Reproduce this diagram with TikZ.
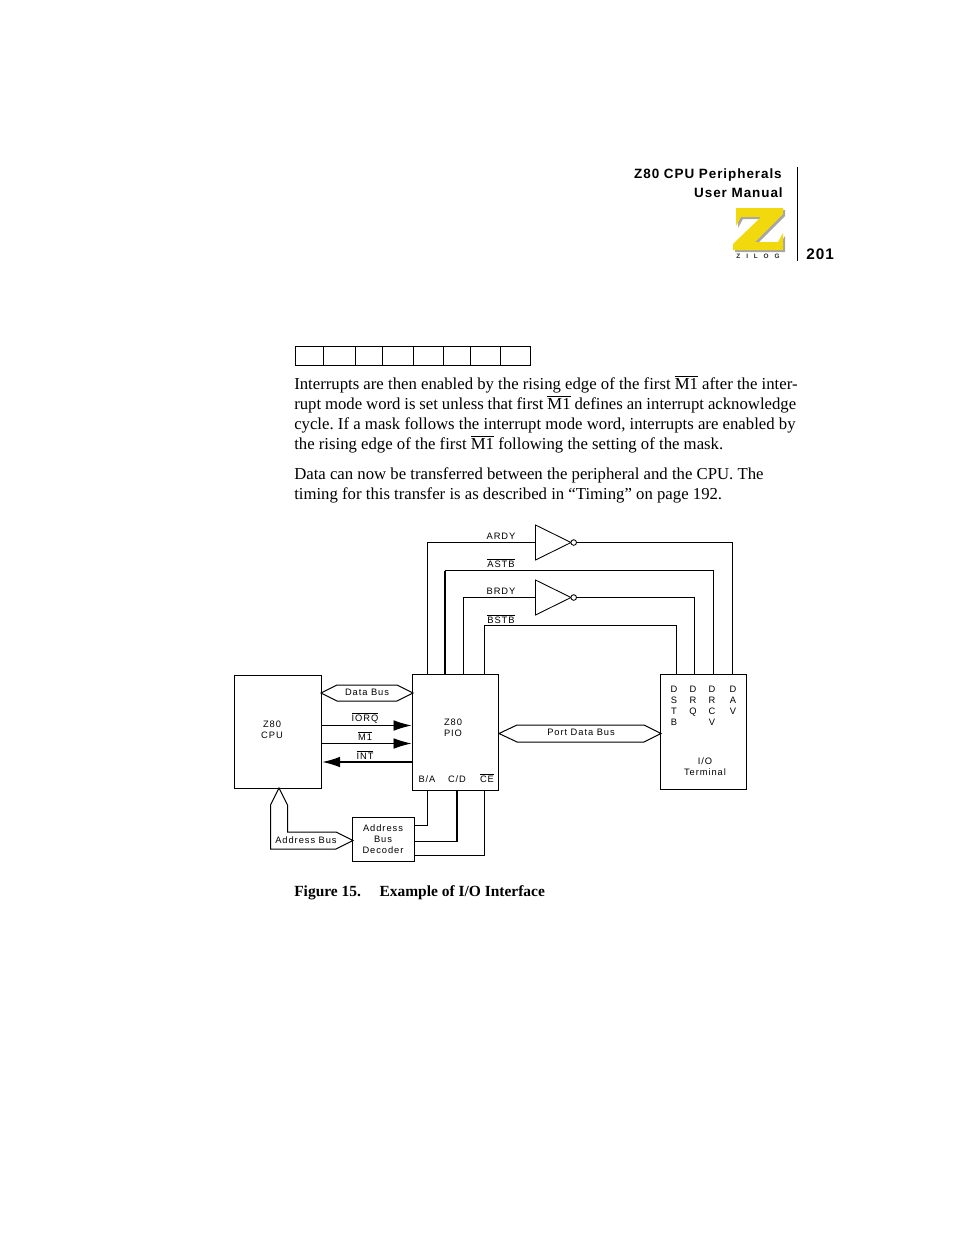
\documentclass[tikz,border=0pt]{standalone}
\usepackage{fontspec}
\setmainfont{Liberation Serif}
\newfontfamily\labelfont[LetterSpace=10]{Liberation Sans}
\newfontfamily\headfont[LetterSpace=7]{Liberation Sans}
\usepackage{tikz}
\usetikzlibrary{arrows.meta}
\frenchspacing
\newcommand{\barred}[1]{$\overline{\mbox{#1}}$}
\begin{document}
\begin{tikzpicture}[x=0.75pt, y=-0.75pt,
		block/.style={draw, line width=0.65pt, inner sep=0mm, outer sep=0mm},
		wire/.style={line width=0.65pt},
		heavy/.style={line width=1.3pt},
		bus/.style={draw, line width=0.75pt, fill=white, line join=miter},
		sig/.style={font=\labelfont\fontsize{7}{8.3}\selectfont, inner sep=0mm, align=center},
		para/.style={anchor=base west, inner sep=0mm, font=\fontsize{12.55}{15}\selectfont},
		dot/.style={circle, draw, line width=0.65pt, fill=white, minimum size=4.2pt, inner sep=0mm, outer sep=0mm},
		head/.style={font=\headfont\bfseries\fontsize{10.1}{12}\selectfont, inner sep=0mm, anchor=base east},
		tip/.style={-{Latex[length=13.5pt, width=8pt]}}]
	\useasboundingbox (0,0) rectangle (954,1235);
	% running head
	\node[head] at (782,178) (title1) {Z80 CPU Peripherals};
	\node[head] at (783,197) (title2) {User Manual};
	\node[head, anchor=base west, font=\headfont\bfseries\fontsize{11.5}{12}\selectfont] at (806,259) (pageno) {201};
	\coordinate (rule1) at (797.5,167);
	\coordinate (rule2) at (797.5,261);
	\draw[wire] (rule1)--(rule2);
	% logo
	\fill[black!35] (738,210)--(785,210)--(785,216)--(757,244)--(780,244)--(785,236)--(785,252)--(735,252)--(735,246)--(763,219)--(743,219)--(738,228)--cycle;
	\fill[yellow!85!orange!95!black] (736,208)--(783,208)--(783,214)--(755,242)--(778,242)--(783,233)--(783,250)--(733,250)--(733,244)--(761,217)--(741,217)--(736,226)--cycle;
	\node[font=\labelfont\bfseries\fontsize{4.8}{5}\selectfont, inner sep=0mm, text=black!85] at (758,256.5) (zilog) {Z\hspace{4.4pt}I\hspace{4.4pt}L\hspace{4.4pt}O\hspace{4.4pt}G};
	% register boxes
	\foreach \xa/\xb in {295.5/323.5, 323.5/355.5, 355.5/382.5, 382.5/413.5, 413.5/443.5, 443.5/470.5, 470.5/500.5, 500.5/530.5}
		\draw[wire] (\xa,346.5) rectangle (\xb,365.5);
	% body text
	\node[para] at (294,389) (line1) {\makebox[377.5pt][s]{Interrupts are then enabled by the rising edge of the first \barred{M1} after the inter-}};
	\node[para] at (294,409) (line2) {\makebox[376.5pt][s]{rupt mode word is set unless that first \barred{M1} defines an interrupt acknowledge}};
	\node[para] at (294,429) (line3) {\makebox[376pt][s]{cycle. If a mask follows the interrupt mode word, interrupts are enabled by}};
	\node[para] at (294,449) (line4) {the rising edge of the first \barred{M1} following the setting of the mask.};
	\node[para] at (294,479) (line5) {Data can now be transferred between the peripheral and the CPU. The};
	\node[para] at (294,499) (line6) {timing for this transfer is as described in ``Timing'' on page 192.};
	\node[para, font=\bfseries\fontsize{11.6}{14}\selectfont] at (294,896) (caption) {Figure 15.\hspace{1.2em}Example of I/O Interface};
	% blocks
	\node[block, minimum width=65.25pt, minimum height=84.75pt] at (278,732) (cpu) {};
	\node[block, minimum width=64.5pt, minimum height=87pt] at (455.5,732.5) (pio) {};
	\node[block, minimum width=64.5pt, minimum height=86.25pt] at (703.5,732) (term) {};
	\node[block, minimum width=46.5pt, minimum height=33pt] at (383.5,839.5) (dec) {};
	\draw[heavy] (cpu.north west)--(cpu.south west);
	\draw[heavy] (dec.north west)--(dec.north east);
	% block labels
	\node[sig] at (272,730) (cpulabel) {Z80\\CPU};
	\node[sig] at (453,728) (piolabel) {Z80\\PIO};
	\node[sig] at (427,779) (ba) {B/A};
	\node[sig] at (457,779) (cd) {C/D};
	\node[sig] at (487,778) (ce) {\barred{CE}};
	\node[sig] at (383,839) (declabel) {Address\\Bus\\Decoder};
	\node[sig] at (705,767) (termlabel) {I/O\\Terminal};
	\node[sig, anchor=north] at (674,686) (dstb) {D\\S\\T\\B};
	\node[sig, anchor=north] at (693,686) (drq) {D\\R\\Q};
	\node[sig, anchor=north] at (712,686) (drcv) {D\\R\\C\\V};
	\node[sig, anchor=north] at (733,686) (dav) {D\\A\\V};
	% inverters
	\coordinate (inva1) at (535.5,525);
	\coordinate (inva2) at (535.5,560);
	\coordinate (inva3) at (571,542.5);
	\coordinate (invb1) at (535.5,580);
	\coordinate (invb2) at (535.5,615);
	\coordinate (invb3) at (571,597.5);
	\draw[wire, line join=miter] (inva1)--(inva3)--(inva2)--cycle;
	\draw[wire, line join=miter] (invb1)--(invb3)--(invb2)--cycle;
	\node[dot] at (573.7,542.5) (dota) {};
	\node[dot] at (573.7,597.5) (dotb) {};
	% handshake lines
	\coordinate (inain) at (535.5,542.5);
	\coordinate (inbin) at (535.5,597.5);
	\coordinate (pioa) at (427.5,674.5);
	\coordinate (piob) at (445,674.5);
	\coordinate (pioc) at (463.5,674.5);
	\coordinate (piod) at (484.5,674.5);
	\coordinate (termd) at (676.5,674.5);
	\coordinate (termc) at (694.5,674.5);
	\coordinate (termb) at (713.5,674.5);
	\coordinate (terma) at (732.5,674.5);
	\coordinate (astbl) at (445,570.5);
	\coordinate (astbr) at (713.5,570.5);
	\coordinate (bstbl) at (484.5,625.5);
	\coordinate (bstbr) at (676.5,625.5);
	\draw[wire] (dota.east)-|(terma) (inain)-|(pioa);
	\draw[wire] (astbl)--(astbr)--(termb);
	\draw[wire] (dotb.east)-|(termc) (inbin)-|(pioc);
	\draw[wire] (piod)--(bstbl)--(bstbr)--(termd);
	\draw[heavy] (piob)--(astbl);
	\node[sig] at (501,536) (ardy) {ARDY};
	\node[sig] at (501,563) (astb) {\barred{ASTB}};
	\node[sig] at (501,591) (brdy) {BRDY};
	\node[sig] at (501,619) (bstb) {\barred{BSTB}};
	% buses
	\draw[bus] (321,693)--(337,685)--(397,685)--(413,693)--(397,701)--(337,701)--cycle;
	\node[sig] at (367,692) (databus) {Data Bus};
	\draw[bus] (499,733.5)--(517,725)--(644,725)--(661,733.5)--(644,742)--(517,742)--cycle;
	\node[sig] at (581,732) (portbus) {Port Data Bus};
	\draw[bus] (279,788)--(287.5,805)--(287.5,832)--(336,832)--(353,840.5)--(336,849)--(270.5,849)--(270.5,805)--cycle;
	\node[sig] at (306,840) (addrbus) {Address Bus};
	% control lines
	\coordinate (iorqa) at (321,725.5);
	\coordinate (iorqb) at (411.5,725.5);
	\coordinate (mia) at (321,743.5);
	\coordinate (mib) at (411.5,743.5);
	\coordinate (inta) at (413,762);
	\coordinate (intb) at (322,762);
	\draw[wire, tip] (iorqa)--(iorqb);
	\draw[wire, tip] (mia)--(mib);
	\draw[heavy, tip] (inta)--(intb);
	\node[sig] at (365,718) (iorq) {\barred{IORQ}};
	\node[sig] at (365,736) (mi) {\barred{M1}};
	\node[sig] at (365,755) (int) {\barred{INT}};
	% decoder lines
	\coordinate (bapin) at (427.5,790.5);
	\coordinate (cdpin) at (457,790.5);
	\coordinate (cepin) at (484.5,790.5);
	\coordinate (decba) at (414.5,825.5);
	\coordinate (deccd) at (414.5,841.5);
	\coordinate (decce) at (414.5,855.5);
	\draw[wire] (bapin)|-(decba);
	\draw[heavy] (cdpin)--(cdpin|-deccd);
	\draw[wire] (cdpin|-deccd)--(deccd);
	\draw[wire] (cepin)|-(decce);
\end{tikzpicture}
\end{document}
